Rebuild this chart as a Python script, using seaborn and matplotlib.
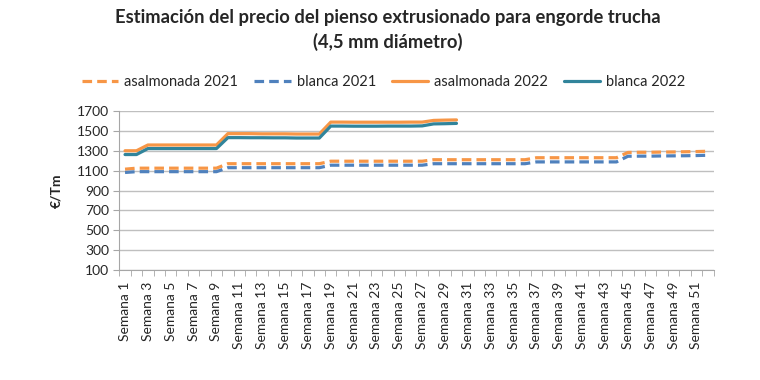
import numpy as np
import pandas as pd
import seaborn as sns
import matplotlib.pyplot as plt

# Weekly feed price estimates (EUR/Tm)
weeks = [f"Semana {i}" for i in range(1, 53)]

asalmonada_2021 = ([1115, 1125] + [1125] * 7 + [1170] * 9 + [1195] * 9
                   + [1210] * 9 + [1230] * 8 + [1283, 1285, 1285, 1287, 1288, 1290, 1292, 1295])
blanca_2021 = ([1082, 1090] + [1090] * 7 + [1130] * 9 + [1155] * 9
               + [1170] * 9 + [1188] * 8 + [1245, 1246, 1246, 1248, 1249, 1250, 1252, 1255])
asalmonada_2022 = ([1300, 1300] + [1358] * 7 + [1472, 1472, 1472, 1470, 1470, 1470, 1468, 1468, 1468]
                   + [1588, 1588, 1587, 1587, 1587, 1587, 1587, 1588, 1588] + [1605, 1608, 1610])
blanca_2022 = ([1262, 1262] + [1322] * 7 + [1432, 1432, 1431, 1431, 1430, 1430, 1428, 1428, 1428]
               + [1548, 1548, 1547, 1547, 1547, 1548, 1548, 1548, 1550] + [1570, 1572, 1575])

series = {
    "asalmonada 2021": asalmonada_2021,
    "blanca 2021": blanca_2021,
    "asalmonada 2022": asalmonada_2022,
    "blanca 2022": blanca_2022,
}
colors = {
    "asalmonada 2021": "#F79646",
    "blanca 2021": "#4F81BD",
    "asalmonada 2022": "#F79646",
    "blanca 2022": "#31849B",
}
styles = {
    "asalmonada 2021": (3, 1.6),
    "blanca 2021": (3, 1.6),
    "asalmonada 2022": "",
    "blanca 2022": "",
}

rows = []
for name, vals in series.items():
    for i, v in enumerate(vals):
        rows.append({"idx": i, "semana": weeks[i], "serie": name, "precio": v})
df = pd.DataFrame(rows)

sns.set_style("white")
plt.rcParams["font.family"] = ["Lato", "DejaVu Sans"]

fig = plt.figure(figsize=(7.6, 3.8), dpi=100)
ax = fig.add_axes([0.157, 0.289, 0.782, 0.419])

sns.lineplot(data=df, x="idx", y="precio", hue="serie", style="serie",
             palette=colors, dashes=styles, linewidth=2.3, ax=ax,
             hue_order=list(series), style_order=list(series))

ax.set_ylim(100, 1700)
ax.set_yticks(range(100, 1701, 200))
ax.set_xlim(-0.5, 51.5)
ax.set_xticks(range(52))
ax.set_xticklabels([w if i % 2 == 0 else "" for i, w in enumerate(weeks)],
                   rotation=90, fontsize=10)
ax.set_xticks(np.arange(-0.5, 52, 1), minor=True)
ax.tick_params(axis="x", which="major", length=0, pad=8)
ax.tick_params(axis="x", which="minor", length=4, color="#A6A6A6", bottom=True)
ax.tick_params(axis="y", labelsize=10, length=4, color="#A6A6A6", left=True)
ax.grid(axis="y", color="#BFBFBF", linewidth=1)
for s in ["top", "right"]:
    ax.spines[s].set_visible(False)
for s in ["left", "bottom"]:
    ax.spines[s].set_color("#A6A6A6")
ax.set_xlabel("")
ax.set_ylabel("€/Tm", fontsize=10, fontweight="bold", labelpad=10)

ax.legend(loc="center", bbox_to_anchor=(0.505, 0.785), bbox_transform=fig.transFigure,
          ncol=4, frameon=False, fontsize=10.5, handlelength=2.5,
          columnspacing=1.1, handletextpad=0.4)

fig.suptitle("Estimación del precio del pienso extrusionado para engorde trucha\n(4,5 mm diámetro)",
             x=0.51, y=0.975, fontsize=13.2, fontweight="bold", linespacing=1.45)

fig.savefig("out.png", dpi=100)
